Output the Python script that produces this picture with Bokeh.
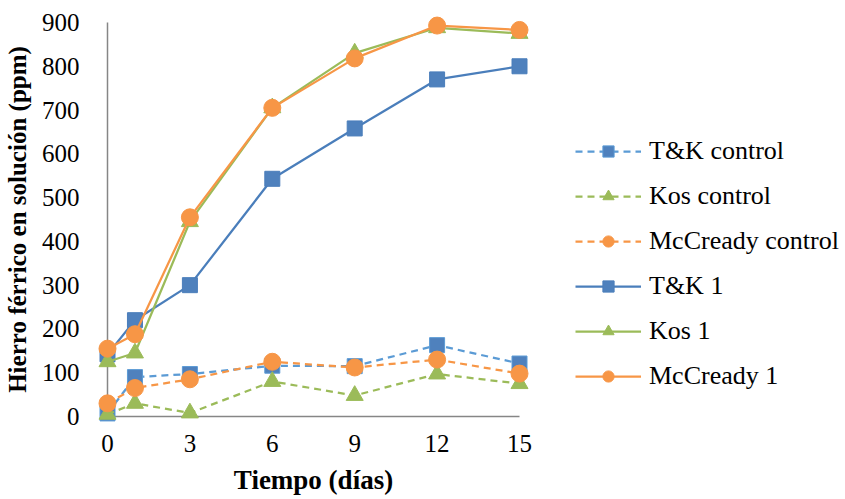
from bokeh.plotting import figure
from bokeh.models import Range1d, Legend, LegendItem, FixedTicker
from bokeh.embed import file_html
from bokeh.resources import INLINE

days = [0, 1, 3, 6, 9, 12, 15]
tk_control = [7, 90, 97, 116, 115, 163, 121]
kos_control = [5, 30, 8, 80, 48, 97, 75]
mcc_control = [30, 65, 85, 125, 112, 130, 98]
tk_1 = [142, 220, 300, 543, 658, 770, 800]
kos_1 = [125, 145, 445, 705, 830, 888, 875]
mcc_1 = [155, 188, 455, 705, 818, 893, 883]

series_names = ["T&K control", "Kos control", "McCready control", "T&K 1", "Kos 1", "McCready 1"]
x_ticks = [0, 3, 6, 9, 12, 15]
y_ticks = [0, 100, 200, 300, 400, 500, 600, 700, 800, 900]

FONT = "Liberation Serif"

p = figure(frame_width=412, frame_height=394, output_backend="svg", toolbar_location=None,
           x_range=Range1d(0, 15), y_range=Range1d(0, 900),
           min_border_left=106, min_border_right=0, min_border_top=22, min_border_bottom=83)
p.outline_line_color = None
p.grid.visible = False
p.background_fill_color = "white"
p.border_fill_color = "white"

for ax in (p.xaxis[0], p.yaxis[0]):
    ax.axis_line_color = "#868686"
    ax.axis_line_width = 1.5
    ax.major_tick_line_color = None
    ax.minor_tick_line_color = None
    ax.major_label_text_font = FONT
    ax.major_label_text_font_size = "25px"
    ax.major_label_text_color = "black"
    ax.axis_label_text_font = FONT
    ax.axis_label_text_font_style = "bold"
    ax.axis_label_text_color = "black"

p.xaxis[0].ticker = FixedTicker(ticks=x_ticks)
p.yaxis[0].ticker = FixedTicker(ticks=y_ticks)
p.xaxis[0].axis_label = "Tiempo (días)"
p.yaxis[0].axis_label = "Hierro férrico en solución (ppm)"
p.xaxis[0].axis_label_text_font_size = "27px"
p.yaxis[0].axis_label_text_font_size = "25px"
p.xaxis[0].major_label_standoff = 12
p.yaxis[0].major_label_standoff = 22
p.xaxis[0].axis_label_standoff = 10
p.yaxis[0].axis_label_standoff = 8

specs = [
    (tk_control, "#5B9BD5", "#4F81BD", "square", "7 5", 15),
    (kos_control, "#9BBB59", "#9BBB59", "triangle", "7 5", 17),
    (mcc_control, "#F79646", "#F79646", "circle", "7 5", 17),
    (tk_1, "#4A7EBB", "#4F81BD", "square", "solid", 15),
    (kos_1, "#9BBB59", "#9BBB59", "triangle", "solid", 17),
    (mcc_1, "#F79646", "#F79646", "circle", "solid", 17),
]

items = []
for name, (vals, lc, mc, mk, dash, sz) in zip(series_names, specs):
    r1 = p.line(days, vals, line_color=lc, line_width=2.25, line_dash=dash, level="overlay")
    r2 = p.scatter(days, vals, marker=mk, size=sz, fill_color=mc, line_color=lc, line_width=1, level="overlay")
    items.append(LegendItem(label=name, renderers=[r1, r2]))

legend = Legend(items=items, location=(56, 25))
legend.border_line_color = None
legend.background_fill_alpha = 0
legend.padding = 0
legend.margin = 0
legend.spacing = 15
legend.glyph_width = 66
legend.glyph_height = 28
legend.label_height = 28
legend.label_standoff = 8
legend.label_text_font = FONT
legend.label_text_font_size = "26px"
legend.label_text_color = "black"
p.add_layout(legend, "right")

open("out.html", "w").write(file_html(p, INLINE))
